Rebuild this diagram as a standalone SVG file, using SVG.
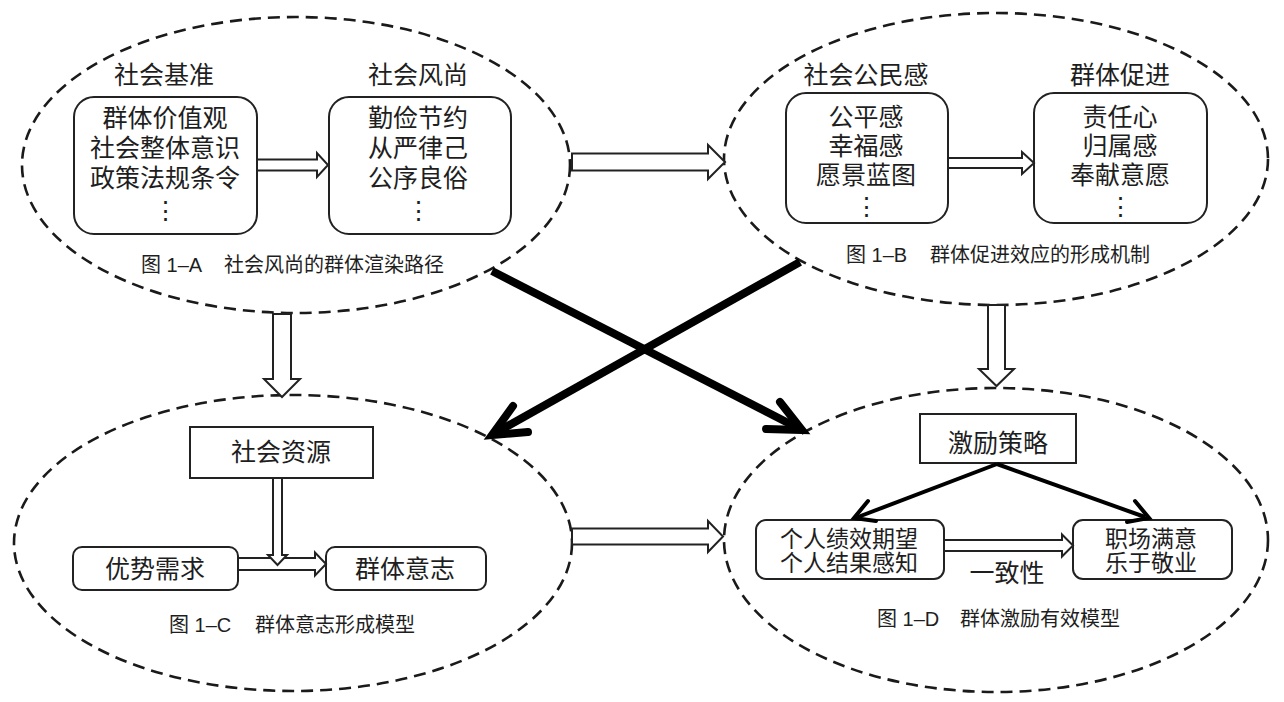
<svg xmlns="http://www.w3.org/2000/svg" width="1284" height="702" viewBox="0 0 1284 702">
<style>
.ell{fill:none;stroke:#1a1a1a;stroke-width:2.6;stroke-dasharray:12 7}
.box{fill:#fff;stroke:#222;stroke-width:2}
.blk{fill:#fff;stroke:#222;stroke-width:2;stroke-linejoin:miter}
.t{font-family:"Noto Sans CJK SC","Noto Sans CJK JP",sans-serif;font-size:25px;fill:#1e1e1e;text-anchor:middle}
.t23{font-family:"Noto Sans CJK SC","Noto Sans CJK JP",sans-serif;font-size:23px;fill:#1e1e1e;text-anchor:middle}
.cap{font-family:"Liberation Sans","Noto Sans CJK SC",sans-serif;font-size:20px;fill:#1e1e1e}
.thick{stroke:#000;stroke-width:8;fill:none}
.thickhead{stroke:#000;stroke-width:8;fill:none;stroke-linecap:round;stroke-linejoin:miter}
.thin{stroke:#000;stroke-width:4;fill:none}
.thinhead{stroke:#000;stroke-width:4;fill:none;stroke-linecap:round;stroke-linejoin:miter}
</style>

<g id="ellipse-A">
<ellipse class="ell" cx="296" cy="165" rx="274" ry="148"/>
<text class="t" x="164" y="84">社会基准</text>
<text class="t" x="418" y="84">社会风尚</text>
<text class="cap" x="141" y="272">图 1–A<tspan x="224">社会风尚的群体渲染路径</tspan></text>
</g>
<g id="node-A1">
<rect class="box" x="74" y="97" width="183" height="137" rx="20"/>
<text class="t" x="165" y="127">群体价值观</text>
<text class="t" x="165" y="157">社会整体意识</text>
<text class="t" x="165" y="187">政策法规条令</text>
<text class="t" x="165" y="219">⋮</text>
</g>
<g id="node-A2">
<rect class="box" x="329" y="97" width="182" height="137" rx="20"/>
<text class="t" x="418" y="127">勤俭节约</text>
<text class="t" x="418" y="157">从严律己</text>
<text class="t" x="418" y="187">公序良俗</text>
<text class="t" x="418" y="219">⋮</text>
</g>

<g id="ellipse-B">
<ellipse class="ell" cx="996" cy="159" rx="272" ry="146"/>
<text class="t" x="866" y="84">社会公民感</text>
<text class="t" x="1120" y="84">群体促进</text>
<text class="cap" x="846" y="262">图 1–B<tspan x="930">群体促进效应的形成机制</tspan></text>
</g>
<g id="node-B1">
<rect class="box" x="786" y="93" width="162" height="130" rx="20"/>
<text class="t" x="866" y="126">公平感</text>
<text class="t" x="866" y="155">幸福感</text>
<text class="t" x="866" y="184">愿景蓝图</text>
<text class="t" x="866" y="215">⋮</text>
</g>
<g id="node-B2">
<rect class="box" x="1034" y="93" width="173" height="130" rx="20"/>
<text class="t" x="1120" y="126">责任心</text>
<text class="t" x="1120" y="155">归属感</text>
<text class="t" x="1120" y="184">奉献意愿</text>
<text class="t" x="1120" y="215">⋮</text>
</g>

<g id="ellipse-C">
<ellipse class="ell" cx="293" cy="543" rx="279" ry="148"/>
<text class="cap" x="169" y="632">图 1–C<tspan x="255">群体意志形成模型</tspan></text>
</g>
<g id="node-C1">
<rect class="box" x="190" y="427" width="183" height="51"/>
<text class="t" x="281" y="461">社会资源</text>
</g>
<g id="node-C2">
<rect class="box" x="73" y="547" width="165" height="43" rx="9"/>
<text class="t" x="155" y="578">优势需求</text>
</g>
<g id="node-C3">
<rect class="box" x="326" y="547" width="160" height="43" rx="9"/>
<text class="t" x="405" y="578">群体意志</text>
</g>

<g id="ellipse-D">
<ellipse class="ell" cx="996" cy="540" rx="272" ry="152"/>
<text class="t" x="1007" y="582">一致性</text>
<text class="cap" x="877" y="626">图 1–D<tspan x="960">群体激励有效模型</tspan></text>
</g>
<g id="node-D1">
<rect class="box" x="920" y="414" width="156" height="49"/>
<text class="t" x="998" y="452">激励策略</text>
</g>
<g id="node-D2">
<rect class="box" x="756" y="520" width="188" height="59" rx="10"/>
<text class="t23" x="849" y="547">个人绩效期望</text>
<text class="t23" x="849" y="571">个人结果感知</text>
</g>
<g id="node-D3">
<rect class="box" x="1073" y="520" width="159" height="59" rx="10"/>
<text class="t23" x="1151" y="547">职场满意</text>
<text class="t23" x="1151" y="571">乐于敬业</text>
</g>

<g id="connectors">
<!-- block arrows -->
<polygon class="blk" points="257,159.5 317,159.5 317,153 328,165 317,177 317,170.5 257,170.5"/>
<polygon class="blk" points="948,158 1022,158 1022,152 1034,163 1022,174 1022,168 948,168"/>
<polygon class="blk" points="572,153.5 708,153.5 708,145 725,162 708,179 708,170.5 572,170.5"/>
<polygon class="blk" points="572,528.5 708,528.5 708,521 723,536.5 708,552 708,544.5 572,544.5"/>
<polygon class="blk" points="273,314 291,314 291,379 300,379 282,397 264,379 273,379"/>
<polygon class="blk" points="988,305 1005,305 1005,369 1014,369 996.5,386 979,369 988,369"/>
<polygon class="blk" points="238,558 315,558 315,552.5 326,564 315,575.5 315,570 238,570"/>
<polygon class="blk" points="273,478 282,478 282,555 287,555 277.5,565 268,555 273,555"/>
<polygon class="blk" points="944,540 1062,540 1062,534.5 1073,545.5 1062,556.5 1062,551 944,551"/>
<!-- thick crossing arrows -->
<line class="thick" x1="492" y1="271" x2="797" y2="427.5"/>
<polyline class="thickhead" points="780,402 802,430 766,429"/>
<line class="thick" x1="800" y1="262" x2="497" y2="432"/>
<polyline class="thickhead" points="513,406 492,435 528,432"/>
<!-- thin arrows in D -->
<line class="thin" x1="997" y1="464" x2="858" y2="517"/>
<polyline class="thinhead" points="868,501 854,518 876,521"/>
<line class="thin" x1="997" y1="464" x2="1145" y2="517"/>
<polyline class="thinhead" points="1135,501 1149,518 1127,522"/>
</g>
</svg>
